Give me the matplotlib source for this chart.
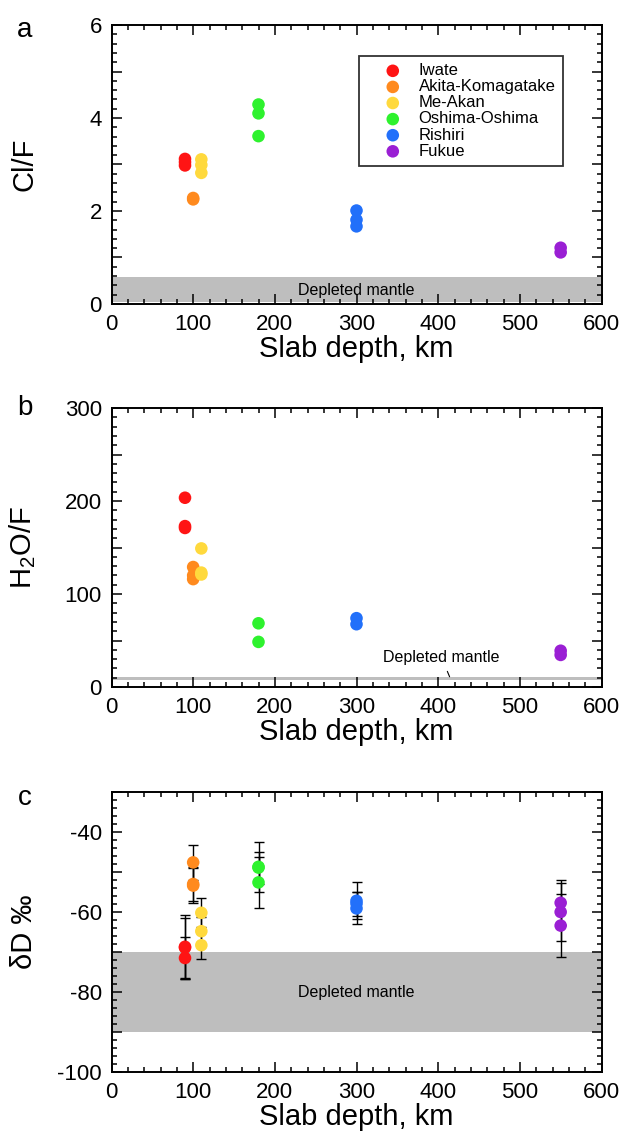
import numpy as np
import matplotlib
matplotlib.use("Agg")
import matplotlib.pyplot as plt
from matplotlib.ticker import MultipleLocator, FuncFormatter

plt.rcParams['font.family'] = ['Liberation Sans', 'DejaVu Sans']
plt.rcParams['mathtext.fontset'] = 'custom'
plt.rcParams['mathtext.rm'] = 'Liberation Sans'

# --- data ---
volcanoes = ["Iwate", "Akita-Komagatake", "Me-Akan", "Oshima-Oshima", "Rishiri", "Fukue"]
colors = ["#ff1414", "#ff8a1e", "#ffd93d", "#2ef22e", "#2270fa", "#9a1fd4"]
depth = [90, 100, 110, 180, 300, 550]

cl_f = [
    [3.12, 3.05, 2.98],
    [2.25, 2.28],
    [3.11, 2.99, 2.82],
    [4.29, 4.10, 3.61],
    [2.01, 1.81, 1.67],
    [1.21, 1.11],
]
h2o_f = [
    [203.5, 173.0, 171.0],
    [129.0, 120.0, 116.0],
    [149.0, 123.0, 121.0],
    [68.5, 48.5],
    [74.0, 67.5],
    [39.0, 34.5],
]
dD = [
    [-68.7, -68.9, -71.5],
    [-47.6, -53.0, -53.4],
    [-60.2, -64.8, -68.3],
    [-48.7, -52.6, -48.9],
    [-57.2, -59.1, -57.9],
    [-57.7, -60.0, -63.4],
]
dD_err = [
    [8.0, 7.5, 5.2],
    [4.4, 4.2, 4.4],
    [3.6, 3.5, 3.4],
    [6.3, 6.4, 4.0],
    [4.6, 4.0, 3.0],
    [5.6, 7.3, 7.9],
]

dm_cl_f = (0.05, 0.57)
dm_h2o_f = (7, 11)
dm_dD = (-90, -70)

fig = plt.figure(figsize=(6.35, 11.42), dpi=100)
W, H = 635.0, 1142.0


def make_ax(top, bottom, left=111.5, right=601.5):
    return fig.add_axes([left / W, 1 - bottom / H, (right - left) / W, (bottom - top) / H])


ax_a = make_ax(25, 304)
ax_b = make_ax(408, 687)
ax_c = make_ax(792, 1072)

ms = 82
lab_fs = 21
tick_fs = 16
small_fs = 11.5


def style(ax, ymin, ymax, ymajor, yminor, ylabel_every):
    ax.set_xlim(0, 600)
    ax.set_ylim(ymin, ymax)
    ax.xaxis.set_major_locator(MultipleLocator(100))
    ax.xaxis.set_minor_locator(MultipleLocator(20))
    ax.yaxis.set_major_locator(MultipleLocator(ymajor))
    ax.yaxis.set_minor_locator(MultipleLocator(yminor))
    ax.yaxis.set_major_formatter(FuncFormatter(
        lambda v, p: "%d" % round(v) if abs(round(v / ylabel_every) * ylabel_every - v) < 1e-6 else ""))
    ax.tick_params(which='both', direction='in', top=True, right=True, labelsize=tick_fs, width=1.1)
    ax.tick_params(which='major', length=7, pad=7)
    ax.tick_params(which='minor', length=3.5)
    for s in ax.spines.values():
        s.set_linewidth(1.4)
    ax.set_xlabel("Slab depth, km", fontsize=lab_fs, labelpad=0)


# panel a
for name, c, x, ys in zip(volcanoes, colors, depth, cl_f):
    ax_a.scatter([x] * len(ys), ys, s=ms, color=c, edgecolors='none', label=name, zorder=3)
ax_a.axhspan(dm_cl_f[0], dm_cl_f[1], color='#bebebe', lw=0, zorder=1)
ax_a.text(300, 0.3, "Depleted mantle", ha='center', va='center', fontsize=small_fs, zorder=2)
style(ax_a, 0, 6, 1, 0.2, 2)
ax_a.set_ylabel("Cl/F", fontsize=lab_fs)
leg = ax_a.legend(loc='upper left', bbox_to_anchor=(0.506, 0.89), fontsize=12, frameon=True,
                  fancybox=False, edgecolor='black', labelspacing=0.066, handletextpad=0.0,
                  borderpad=0.45, borderaxespad=0, scatterpoints=1, handlelength=3.1)
leg.get_frame().set_linewidth(1.3)

# panel b
for name, c, x, ys in zip(volcanoes, colors, depth, h2o_f):
    ax_b.scatter([x] * len(ys), ys, s=ms, color=c, edgecolors='none', zorder=3)
ax_b.axhspan(dm_h2o_f[0], dm_h2o_f[1], color='#bebebe', lw=0, zorder=1)
ax_b.annotate("Depleted mantle", xy=(414, dm_h2o_f[1]), xytext=(404, 32), ha='center', va='center',
              fontsize=small_fs, arrowprops=dict(arrowstyle='-', lw=0.8, color='black', shrinkA=3, shrinkB=0))
style(ax_b, 0, 300, 50, 10, 100)
ax_b.set_ylabel("H$_2$O/F", fontsize=lab_fs)

# panel c
for name, c, x, ys, es in zip(volcanoes, colors, depth, dD, dD_err):
    ax_c.errorbar([x] * len(ys), ys, yerr=es, fmt='none', ecolor='black', elinewidth=1,
                  capsize=3.5, capthick=1, zorder=2)
    ax_c.scatter([x] * len(ys), ys, s=ms, color=c, edgecolors='none', zorder=3)
ax_c.axhspan(dm_dD[0], dm_dD[1], color='#bebebe', lw=0, zorder=1)
ax_c.text(300, -80, "Depleted mantle", ha='center', va='center', fontsize=small_fs, zorder=2)
style(ax_c, -100, -30, 10, 2, 20)
ax_c.set_ylabel("\u03b4D \u2030", fontsize=lab_fs)

for ax in [ax_a, ax_b, ax_c]:
    ax.yaxis.set_label_coords(-0.15, 0.5)

fig.text(25 / W, 1 - 30 / H, "a", fontsize=20, ha='center', va='center')
fig.text(25 / W, 1 - 408 / H, "b", fontsize=20, ha='center', va='center')
fig.text(25 / W, 1 - 798 / H, "c", fontsize=20, ha='center', va='center')

fig.savefig("out.png", dpi=100)
